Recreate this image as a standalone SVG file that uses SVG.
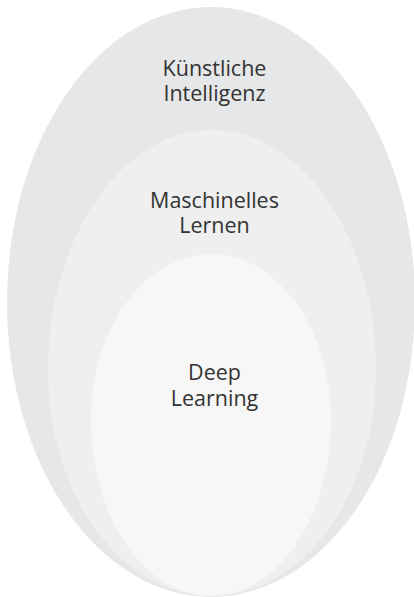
<svg xmlns="http://www.w3.org/2000/svg" width="414" height="597" viewBox="0 0 414 597">
<style>
.lbl{font-family:"Open Sans","Noto Sans","Liberation Sans",sans-serif;font-size:21.5px;fill:#333333;text-anchor:middle}
</style>
<rect width="414" height="597" fill="#ffffff"/>
<g id="ki">
<path d="M7,302 A204,295 0 0 1 415,302 A204,295 0 0 1 7,302 Z" fill="#e6e7e8"/>
<text class="lbl" x="214.5" y="75.7">Künstliche</text>
<text class="lbl" x="214.5" y="101.2">Intelligenz</text>
</g>
<g id="ml">
<path d="M48,370 A164,240 0 0 1 376,370 A164,226 0 0 1 48,370 Z" fill="#efefef"/>
<text class="lbl" x="214.5" y="207.7">Maschinelles</text>
<text class="lbl" x="214.5" y="233.3">Lernen</text>
</g>
<g id="dl">
<path d="M91,420 A120,166 0 0 1 331,420 A120,176 0 0 1 91,420 Z" fill="#f7f7f7"/>
<text class="lbl" x="214.5" y="380.3">Deep</text>
<text class="lbl" x="214.5" y="405.6">Learning</text>
</g>
<g id="connectors"/>
</svg>
